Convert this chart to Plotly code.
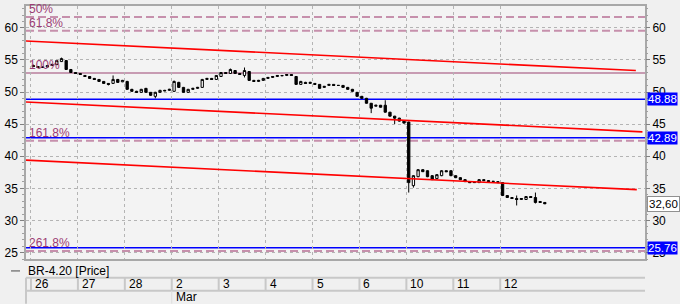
import plotly.graph_objects as go

# ---------------- data ----------------
days = ['26', '27', '28', '2', '3', '4', '5', '6', '10', '11', '12']
month_labels = ['Mar']
month_start_day = ['2']
bars_per_day = 10

opens = [54.14, 53.98, 53.83, 53.90, 54.14, 54.29, 54.75, 54.91, 53.52, 53.05,
         52.90, 52.59, 52.43, 52.13, 51.97, 51.66, 51.35, 51.35, 51.97, 51.60,
         51.66, 50.43, 50.12, 49.96, 50.58, 49.96, 49.34, 49.96, 50.27, 50.27,
         50.12, 51.51, 50.73, 49.96, 50.43, 50.58, 50.73, 51.97, 52.13, 51.97,
         52.43, 53.05, 52.90, 53.36, 52.90, 52.59, 53.21, 51.82, 51.66, 51.82,
         52.13, 52.28, 52.43, 52.59, 52.59, 52.74, 52.43, 51.20, 51.51, 51.35,
         51.35, 51.20, 50.73, 51.04, 51.20, 51.04, 51.04, 50.73, 50.43, 49.96,
         49.34, 49.03, 48.26, 47.80, 47.95, 47.95, 46.87, 46.25, 45.94, 45.48,
         45.33, 35.43, 36.82, 37.91, 37.75, 36.98, 36.52, 36.98, 37.75, 37.75,
         36.98, 36.67, 36.36, 36.05, 35.90, 35.90, 36.36, 36.21, 36.05, 36.05,
         35.90, 33.89, 33.58, 33.42, 33.27, 33.27, 33.73, 33.58, 32.96, 32.81]
highs = [54.29, 54.05, 54.00, 54.20, 54.44, 55.00, 55.37, 55.00, 53.60, 53.10,
         52.95, 52.65, 52.50, 52.20, 52.00, 51.70, 51.40, 52.59, 52.05, 51.90,
         51.75, 50.50, 50.20, 50.50, 50.65, 50.00, 50.05, 50.35, 50.35, 50.50,
         51.80, 51.60, 50.80, 50.50, 50.65, 50.80, 52.05, 52.20, 52.20, 52.65,
         53.10, 53.10, 53.67, 53.40, 52.95, 53.83, 53.25, 51.90, 51.90, 52.20,
         52.35, 52.50, 52.65, 52.65, 52.80, 52.80, 52.50, 51.75, 51.60, 51.60,
         51.40, 51.25, 50.95, 51.25, 51.25, 51.10, 51.10, 50.80, 50.50, 50.00,
         49.40, 49.10, 48.30, 48.00, 48.00, 48.73, 46.90, 46.30, 46.00, 45.55,
         45.40, 37.05, 38.00, 38.00, 37.80, 37.05, 37.20, 37.85, 37.80, 37.80,
         37.05, 36.75, 36.40, 36.10, 36.00, 36.45, 36.40, 36.30, 36.15, 36.10,
         35.95, 33.95, 33.65, 33.89, 33.50, 33.80, 33.80, 34.35, 33.00, 32.85]
lows = [53.90, 53.75, 53.75, 53.85, 54.05, 54.20, 54.70, 53.45, 53.00, 52.85,
        52.70, 52.40, 52.10, 51.90, 51.60, 51.30, 51.04, 51.30, 51.45, 51.55,
        50.35, 50.05, 49.90, 49.90, 49.90, 49.40, 49.03, 49.90, 50.15, 50.20,
        50.05, 50.65, 49.90, 49.90, 50.35, 50.50, 50.65, 51.90, 51.90, 51.90,
        52.40, 52.85, 52.85, 52.85, 52.70, 52.28, 51.75, 51.60, 51.60, 51.75,
        52.05, 52.20, 52.35, 52.50, 52.50, 52.55, 51.15, 51.10, 51.30, 51.30,
        51.15, 50.50, 50.65, 51.00, 51.00, 50.95, 50.70, 50.35, 50.05, 49.30,
        48.95, 48.20, 46.72, 47.75, 47.60, 46.80, 46.20, 45.02, 45.40, 45.10,
        34.35, 35.12, 36.75, 37.55, 36.75, 36.30, 36.45, 36.90, 37.55, 36.90,
        36.60, 36.30, 36.00, 35.85, 35.85, 35.85, 36.15, 36.00, 36.00, 35.85,
        33.80, 33.50, 33.35, 32.34, 33.20, 33.20, 33.50, 32.65, 32.75, 32.55]
closes = [53.98, 53.83, 53.90, 54.14, 54.29, 54.91, 55.22, 53.52, 53.05, 52.90,
          52.74, 52.43, 52.13, 51.97, 51.66, 51.35, 51.20, 51.97, 51.51, 51.82,
          50.43, 50.12, 49.96, 50.43, 49.96, 49.50, 49.96, 50.27, 50.20, 50.43,
          51.66, 50.73, 49.96, 50.43, 50.58, 50.73, 51.97, 52.13, 51.97, 52.59,
          53.05, 52.90, 53.52, 52.90, 52.74, 53.36, 51.82, 51.66, 51.82, 52.13,
          52.28, 52.43, 52.59, 52.55, 52.74, 52.59, 51.20, 51.66, 51.35, 51.51,
          51.20, 50.58, 50.89, 51.20, 51.04, 51.04, 50.73, 50.43, 50.12, 49.34,
          49.03, 48.26, 47.49, 47.95, 47.64, 46.87, 46.25, 45.94, 45.48, 45.17,
          35.90, 36.98, 37.91, 37.60, 36.82, 36.36, 37.14, 37.75, 37.60, 36.98,
          36.67, 36.36, 36.05, 35.90, 35.95, 36.36, 36.21, 36.05, 36.10, 35.90,
          33.89, 33.58, 33.42, 33.27, 33.42, 33.73, 33.58, 32.81, 32.81, 32.60]

series_name = 'BR-4.20 [Price]'
last_price = 32.60
last_price_label = '32,60'

fib_labels = ['50%', '61.8%', '100%', '161.8%', '261.8%']
fib_values = [61.71, 59.55, 52.98, 42.43, 25.25]
fib_dashed = [True, True, False, True, True]

level_values = [48.88, 42.89, 25.76]
level_labels = ['48.88', '42.89', '25.76']

channel_x = [[-2, 128.4], [-2, 129.8], [-2, 128.6]]
channel_y = [[57.97, 53.36], [48.48, 43.81], [39.42, 34.80]]

y_ticks = [25, 30, 35, 40, 45, 50, 55, 60]
y_range = [24.0, 63.41]
x_range = [-1.56, 130.35]

# ---------------- figure ----------------
FONT = 'Liberation Sans, Arial, sans-serif'
xs = list(range(len(closes)))
day_bounds = [i * bars_per_day - 0.5 for i in range(len(days))]

fig = go.Figure()

# channel lines
for cx, cy in zip(channel_x, channel_y):
    fig.add_trace(go.Scatter(x=cx, y=cy, mode='lines', line=dict(color='#ff0000', width=1.6),
                             hoverinfo='skip', showlegend=False))

fig.add_trace(go.Candlestick(
    x=xs, open=opens, high=highs, low=lows, close=closes,
    increasing=dict(line=dict(color='black', width=1), fillcolor='white'),
    decreasing=dict(line=dict(color='black', width=1), fillcolor='black'),
    whiskerwidth=0, showlegend=False, hoverinfo='skip'))

# invisible trace to anchor right axis
fig.add_trace(go.Scatter(x=[xs[-1]], y=[last_price], yaxis='y2', mode='markers',
                         marker=dict(opacity=0), hoverinfo='skip', showlegend=False))

shapes = []
annotations = []

for lab, v, dashed in zip(fib_labels, fib_values, fib_dashed):
    shapes.append(dict(type='line', xref='paper', x0=0, x1=1, yref='y', y0=v, y1=v,
                       line=dict(color='#c690ac' if dashed else '#c79bb2', width=2,
                                 dash='8px,4px' if dashed else 'solid'),
                       layer='below'))
    annotations.append(dict(text=lab, xref='paper', x=0, xanchor='left', xshift=1,
                            yref='y', y=v, yanchor='bottom', yshift=-1, showarrow=False,
                            font=dict(family=FONT, size=12, color='#9c3c74')))

for v, lab in zip(level_values, level_labels):
    shapes.append(dict(type='line', xref='paper', x0=0, x1=1, yref='y', y0=v, y1=v,
                       line=dict(color='#0000ff', width=1.6), layer='below'))
    annotations.append(dict(text=lab, xref='paper', x=1, xanchor='left', xshift=2,
                            yref='y', y=v, yanchor='middle', showarrow=False,
                            bgcolor='#0000ff', borderpad=0,
                            font=dict(family=FONT, size=11.5, color='white')))

annotations.append(dict(text=last_price_label, xref='paper', x=1, xanchor='left', xshift=2,
                        yref='y', y=last_price, yanchor='middle', showarrow=False,
                        bgcolor='white', bordercolor='#909090', borderwidth=1, borderpad=1,
                        font=dict(family=FONT, size=11.5, color='black')))

# bottom date axis (pixel geometry -> paper coords: plot top 4, bottom 259)
def py(px):
    return (259 - px) / 255.0

def pxx(px):
    return (px - 25) / 620.0

row_top, row_mid, row_bot = py(278), py(291), py(304)
shapes.append(dict(type='line', xref='paper', x0=0, x1=1, yref='paper', y0=row_top, y1=row_top,
                   line=dict(color='#c8c8c8', width=2)))
shapes.append(dict(type='line', xref='paper', x0=0, x1=1, yref='paper', y0=row_mid, y1=row_mid,
                   line=dict(color='#c8c8c8', width=2)))
shapes.append(dict(type='line', xref='paper', x0=0, x1=0, yref='paper', y0=row_top, y1=row_bot,
                   line=dict(color='#c8c8c8', width=2)))
for b, d in zip(day_bounds, days):
    shapes.append(dict(type='line', xref='x', x0=b, x1=b, yref='paper', y0=row_top, y1=row_mid,
                       line=dict(color='#c8c8c8', width=2)))
    annotations.append(dict(text=d, xref='x', x=b, xanchor='left', xshift=2,
                            yref='paper', y=py(284.5), yanchor='middle', showarrow=False,
                            font=dict(family=FONT, size=12, color='black')))
for m, sd in zip(month_labels, month_start_day):
    b = day_bounds[days.index(sd)]
    shapes.append(dict(type='line', xref='x', x0=b, x1=b, yref='paper', y0=row_mid, y1=row_bot,
                       line=dict(color='#dcdcdc', width=1)))
    annotations.append(dict(text=m, xref='x', x=b, xanchor='left', xshift=2,
                            yref='paper', y=py(297.5), yanchor='middle', showarrow=False,
                            font=dict(family=FONT, size=12, color='black')))

# legend line + text
shapes.append(dict(type='line', xref='paper', x0=pxx(10), x1=pxx(19), yref='paper',
                   y0=py(271), y1=py(271), line=dict(color='#808080', width=1.5)))
annotations.append(dict(text=series_name, xref='paper', x=0, xanchor='left', xshift=0,
                        yref='paper', y=py(271), yanchor='middle', showarrow=False,
                        font=dict(family=FONT, size=12, color='black')))

axis_common = dict(range=y_range, tickvals=y_ticks, ticks='outside', ticklen=4,
                   tickcolor='#808080', tickfont=dict(family=FONT, size=12, color='black'),
                   minor=dict(ticks='outside', ticklen=2, dtick=1, tickcolor='#a0a0a0',
                              showgrid=False),
                   zeroline=False, fixedrange=True)

fig.update_layout(
    width=680, height=304, autosize=False,
    margin=dict(l=25, r=35, t=4, b=45),
    paper_bgcolor='#f0f0f0', plot_bgcolor='#f3f3f3',
    showlegend=False,
    xaxis=dict(range=x_range, tickvals=day_bounds, showticklabels=False, ticks='',
               showgrid=True, gridcolor='#b4b4b4', griddash='dot', gridwidth=1,
               showline=True, mirror=True, linecolor='#a8a8a8', linewidth=1.5,
               zeroline=False, rangeslider=dict(visible=False), fixedrange=True),
    yaxis=dict(side='left', showgrid=True, gridcolor='#b4b4b4', griddash='dot', gridwidth=1,
               showline=True, mirror=True, linecolor='#a8a8a8', linewidth=1.5, **axis_common),
    yaxis2=dict(side='right', overlaying='y', showgrid=False, showline=False, **axis_common),
    shapes=shapes, annotations=annotations,
)

fig.write_html('out.html')
